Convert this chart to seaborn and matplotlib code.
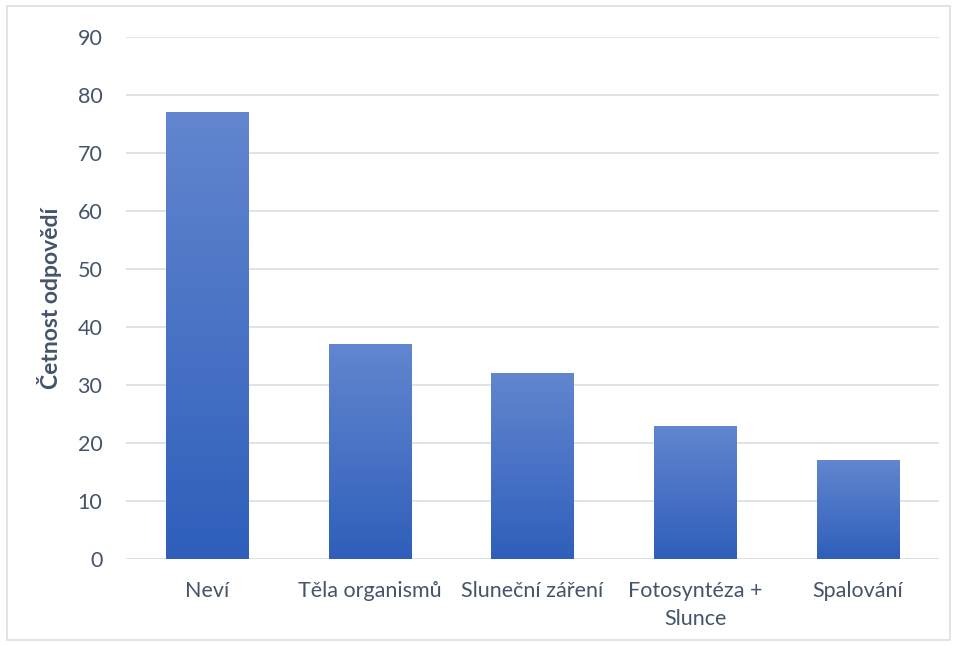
import numpy as np
import pandas as pd
import matplotlib
matplotlib.use("Agg")
import matplotlib.pyplot as plt
import seaborn as sns
from matplotlib.colors import LinearSegmentedColormap
from matplotlib.patches import Rectangle

categories = ["Neví", "Těla organismů", "Sluneční záření", "Fotosyntéza +\nSlunce", "Spalování"]
values = [77, 37, 32, 23, 17]
yticks = [0, 10, 20, 30, 40, 50, 60, 70, 80, 90]
ylabel = "Četnost odpovědí"

sns.set_theme(style="white")
plt.rcParams['font.family'] = ['Lato', 'DejaVu Sans']

text_color = "#44546A"
grid_color = "#DCE1E8"

fig = plt.figure(figsize=(9.55, 6.46), dpi=100)
ax = fig.add_axes([126/955, 1-559/646, (939-126)/955, (559-37)/646])

df = pd.DataFrame({"cat": categories, "val": values})
sns.barplot(data=df, x="cat", y="val", ax=ax, color="#4472C4", width=0.505, zorder=3)

ax.set_ylim(0, 90)
ax.set_xlim(-0.5, len(categories) - 0.5)
ax.set_yticks(yticks)
ax.set_yticklabels([str(t) for t in yticks])
ax.yaxis.grid(True, color=grid_color, linewidth=1.3, zorder=0)
ax.xaxis.grid(False)
for s in ax.spines.values():
    s.set_visible(False)
ax.axhline(0, color=grid_color, linewidth=1.3, zorder=1)
ax.tick_params(axis="both", length=0, labelsize=15.5, labelcolor=text_color)
ax.tick_params(axis="y", pad=17)
ax.tick_params(axis="x", pad=16)
for t in ax.get_xticklabels():
    t.set_linespacing(1.5)
ax.set_xlabel("")
ax.set_ylabel(ylabel, fontsize=16.5, fontweight="bold", color=text_color, labelpad=11)

# gradient fill
cmap = LinearSegmentedColormap.from_list("g", [(47/255, 95/255, 187/255), (98/255, 134/255, 207/255)])
grad = np.linspace(0, 1, 256).reshape(-1, 1)
for p in list(ax.patches):
    x0, y0 = p.get_x(), p.get_y()
    w, h = p.get_width(), p.get_height()
    im = ax.imshow(grad, cmap=cmap, aspect="auto", origin="lower",
                   extent=[x0, x0 + w, y0, y0 + h], zorder=4)
    im.set_clip_path(p)
    p.set_facecolor("none")
    p.set_edgecolor("none")
ax.set_xlim(-0.5, len(categories) - 0.5)
ax.set_ylim(0, 90)

fig.patches.append(Rectangle((7/955, 6/646), 943/955, 634/646, transform=fig.transFigure,
                             fill=False, edgecolor="#D9DEE6", linewidth=1.2))

fig.savefig("out.png", dpi=100, facecolor="white")
